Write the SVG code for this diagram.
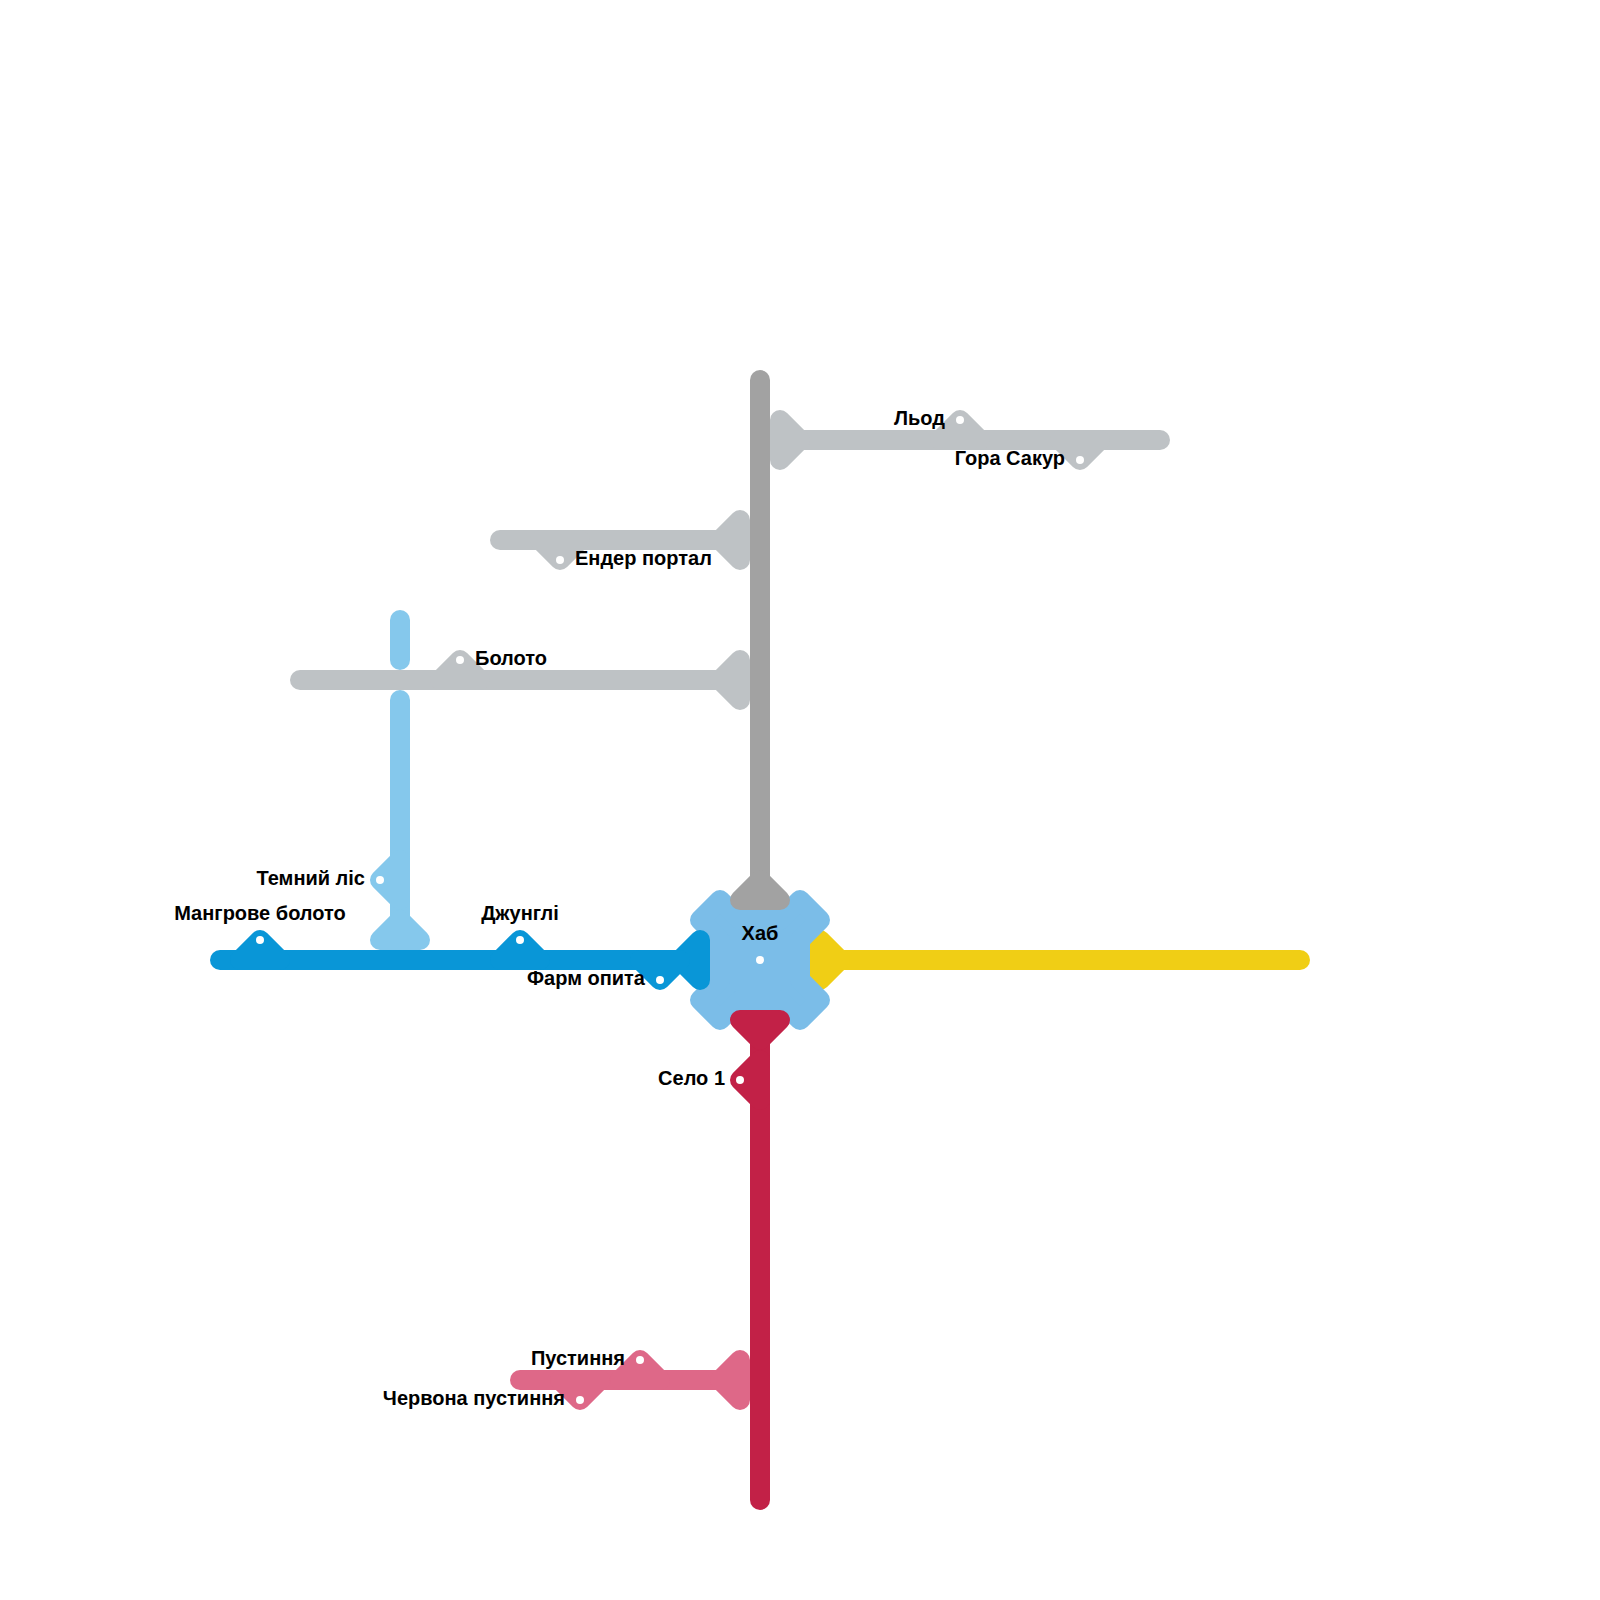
<svg xmlns="http://www.w3.org/2000/svg" width="1600" height="1600" viewBox="0 0 1600 1600">
<style>
.ln{fill:none;stroke-width:20;stroke-linecap:round;stroke-linejoin:round}
.hd{stroke-width:20;stroke-linejoin:round}
.gray{stroke:#bec2c5;fill:#bec2c5}
.trunk{stroke:#a2a2a2;fill:#a2a2a2}
.lb{stroke:#85c8ec;fill:#85c8ec}
.blue{stroke:#0996d7;fill:#0996d7}
.yel{stroke:#f0ce15;fill:#f0ce15}
.red{stroke:#c22147;fill:#c22147}
.pink{stroke:#de6888;fill:#de6888}
.dot{fill:#fff}
text{font-family:"Liberation Sans",Arial,sans-serif;font-weight:700;font-size:20px;fill:#000}
.e{text-anchor:end}.m{text-anchor:middle}
</style>
<rect width="1600" height="1600" fill="#fff"/>
<g id="connectors">
<path class="ln yel" d="M830 960H1300"/>
<polygon class="hd yel" points="820,940 820,980 840,960"/>
<path class="hd" fill="#7bbde8" stroke="#7bbde8" d="M720 900L740 920H780L800 900L820 920L800 940V980L820 1000L800 1020L780 1000H740L720 1020L700 1000L720 980V940L700 920Z"/>
<path class="ln trunk" d="M760 380V890"/>
<polygon class="hd trunk" points="760,880 740,900 780,900"/>
<path class="ln gray" d="M790 440H1160"/>
<polygon class="hd gray" points="780,420 780,460 800,440"/>
<polygon class="hd gray" points="960,420 940,440 980,440"/>
<polygon class="hd gray" points="1080,460 1060,440 1100,440"/>
<path class="ln gray" d="M500 540H730"/>
<polygon class="hd gray" points="740,520 740,560 720,540"/>
<polygon class="hd gray" points="560,560 540,540 580,540"/>
<path class="ln lb" d="M400 620V660"/>
<path class="ln lb" d="M400 700V930"/>
<polygon class="hd lb" points="400,920 380,940 420,940"/>
<polygon class="hd lb" points="380,880 400,860 400,900"/>
<path class="ln gray" d="M300 680H730"/>
<polygon class="hd gray" points="740,660 740,700 720,680"/>
<polygon class="hd gray" points="460,660 440,680 480,680"/>
<path class="ln blue" d="M220 960H690"/>
<polygon class="hd blue" points="700,940 700,980 680,960"/>
<polygon class="hd blue" points="260,940 240,960 280,960"/>
<polygon class="hd blue" points="520,940 500,960 540,960"/>
<polygon class="hd blue" points="660,980 640,960 680,960"/>
<path class="ln pink" d="M520 1380H730"/>
<polygon class="hd pink" points="740,1360 740,1400 720,1380"/>
<polygon class="hd pink" points="640,1360 620,1380 660,1380"/>
<polygon class="hd pink" points="580,1400 560,1380 600,1380"/>
<path class="ln red" d="M760 1030V1500"/>
<polygon class="hd red" points="740,1020 780,1020 760,1040"/>
<polygon class="hd red" points="740,1080 760,1060 760,1100"/>
</g>
<g id="hub"><circle class="dot" cx="760" cy="960" r="4"/><text class="m" x="760" y="940">Хаб</text></g>
<g id="ice"><circle class="dot" cx="960" cy="420" r="4"/><text class="e" x="945" y="425">Льод</text></g>
<g id="sakura"><circle class="dot" cx="1080" cy="460" r="4"/><text class="e" x="1065" y="465">Гора Сакур</text></g>
<g id="ender"><circle class="dot" cx="560" cy="560" r="4"/><text x="575" y="565">Ендер портал</text></g>
<g id="swamp"><circle class="dot" cx="460" cy="660" r="4"/><text x="475" y="665">Болото</text></g>
<g id="darkforest"><circle class="dot" cx="380" cy="880" r="4"/><text class="e" x="365" y="885">Темний ліс</text></g>
<g id="mangrove"><circle class="dot" cx="260" cy="940" r="4"/><text class="m" x="260" y="920">Мангрове болото</text></g>
<g id="jungle"><circle class="dot" cx="520" cy="940" r="4"/><text class="m" x="520" y="920">Джунглі</text></g>
<g id="farm"><circle class="dot" cx="660" cy="980" r="4"/><text class="e" x="645" y="985">Фарм опита</text></g>
<g id="village"><circle class="dot" cx="740" cy="1080" r="4"/><text class="e" x="725" y="1085">Село 1</text></g>
<g id="desert"><circle class="dot" cx="640" cy="1360" r="4"/><text class="e" x="625" y="1365">Пустиння</text></g>
<g id="reddesert"><circle class="dot" cx="580" cy="1400" r="4"/><text class="e" x="565" y="1405">Червона пустиння</text></g>
</svg>
